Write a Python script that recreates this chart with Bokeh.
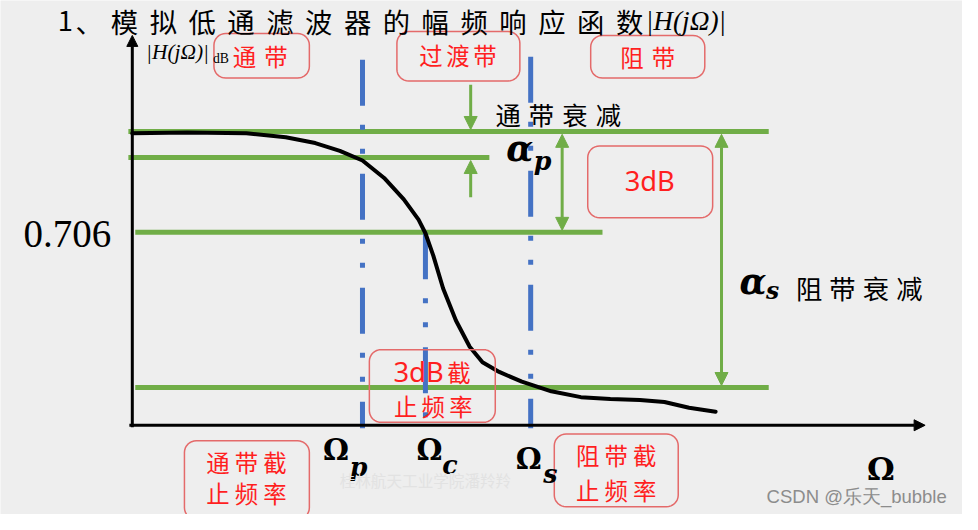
import math
from bokeh.plotting import figure
from bokeh.models import Range1d, Arrow, NormalHead
from bokeh.embed import file_html
from bokeh.resources import INLINE
from bokeh.core.properties import value

# ---------------- data (diagram units: reference pixels, y downward) ----------------
# magnitude response curve |H(jΩ)|
curve_x = [134, 190, 250, 290, 320, 345, 368, 390, 410, 425, 432, 440, 450, 463,
           477, 490, 507, 530, 560, 590, 620, 650, 675, 700, 727]
curve_y = [137, 136, 137, 141, 147, 155, 165, 183, 205, 226, 240, 263, 297, 330,
           357, 373, 383, 393, 403, 409, 411, 412, 414, 420, 424]

# green reference levels: passband max, passband edge (αp), 0.706 (3 dB), stopband (αs)
level_y = [135, 162, 239, 399]
level_x0 = [130, 130, 137, 137]
level_x1 = [781, 497, 612, 781]

# blue dash-dot frequency markers Ωp, Ωc, Ωs
freq_sub = ["p", "c", "s"]
freq_x = [368, 432, 539]
freq_top = [61, 240, 58]
axis_y0 = 438           # Ω axis level
axis_x0 = 134           # |H| axis position

# red annotation boxes: left, top, right, bottom
box_l = [217, 403, 600, 597, 375, 187, 563]
box_t = [34, 32, 36, 150, 360, 454, 447]
box_r = [314, 528, 716, 724, 503, 314, 689]
box_b = [80, 83, 80, 224, 435, 535, 522]

GREEN = "#70ad47"
BLUE = "#4472c4"
RED = "#ff1f1f"
BOXC = "#e46a6a"
BG = "#eeeeee"
CJK = "Noto Sans CJK SC"
SERIF = "DejaVu Serif"
S = 0.975  # font scale (figure is slightly smaller than the reference canvas)

p = figure(width=962, height=514, x_range=Range1d(0, 978), y_range=Range1d(530, 0),
           output_backend="svg", toolbar_location=None, min_border=0,
           x_axis_type=None, y_axis_type=None)
p.grid.visible = False
p.outline_line_color = None
p.background_fill_color = BG
p.border_fill_color = BG

# green levels
p.segment(x0=level_x0, y0=level_y, x1=level_x1, y1=level_y, line_color=GREEN, line_width=5)

# blue dash-dot lines
for fx, ft in zip(freq_x, freq_top):
    p.line(x=[fx, fx], y=[ft, axis_y0 + 3], line_color=BLUE, line_width=5,
           line_dash="46 19 5 19 5 20", line_cap="butt")

# axes
p.add_layout(Arrow(end=NormalHead(size=11, fill_color="black", line_color="black"),
                   x_start=axis_x0, y_start=axis_y0 + 2, x_end=axis_x0, y_end=36,
                   line_color="black", line_width=3))
p.add_layout(Arrow(end=NormalHead(size=11, fill_color="black", line_color="black"),
                   x_start=axis_x0 - 3, y_start=axis_y0, x_end=940, y_end=axis_y0,
                   line_color="black", line_width=3))

# response curve
p.line(x=curve_x, y=curve_y, line_color="black", line_width=4, line_cap="round", line_join="round")

# green attenuation arrows
def garrow(x, y0, y1, both=False):
    head = lambda: NormalHead(size=13, fill_color=GREEN, line_color=GREEN)
    p.add_layout(Arrow(end=head(), start=head() if both else None,
                       x_start=x, y_start=y0, x_end=x, y_end=y1,
                       line_color=GREEN, line_width=3))

garrow(478, 87, level_y[0] - 2)
garrow(478, 203, level_y[1] + 3)
garrow(571, level_y[0] + 3, level_y[2] - 2, both=True)
garrow(733, level_y[0] + 3, level_y[3] - 2, both=True)

# rounded boxes
def rounded(x0, y0, x1, y1, r=12, n=8):
    xs, ys = [], []
    corners = [(x1 - r, y0 + r, -90), (x1 - r, y1 - r, 0), (x0 + r, y1 - r, 90), (x0 + r, y0 + r, 180)]
    for cx, cy, a0 in corners:
        for k in range(n + 1):
            a = math.radians(a0 + 90 * k / n)
            xs.append(cx + r * math.cos(a))
            ys.append(cy + r * math.sin(a))
    return xs, ys

bxs, bys = [], []
for l, t, r, b in zip(box_l, box_t, box_r, box_b):
    xs, ys = rounded(l, t, r, b)
    bxs.append(xs)
    bys.append(ys)
p.patches(xs=bxs, ys=bys, fill_color=None, line_color=BOXC, line_width=1.5)

# text helpers
def txt(x, y, s, size, color="black", font=CJK, style="normal", align="center", baseline="middle"):
    p.text(x=[x], y=[y], text=[s], text_font=value(font), text_font_size=value(f"{size * S:.1f}px"),
           text_color=color, text_font_style=style, text_align=align, text_baseline=baseline)

def spaced(chars, cx, cy, step, size, color="black", font=CJK):
    n = len(chars)
    xs = [cx + (i - (n - 1) / 2) * step for i in range(n)]
    p.text(x=xs, y=[cy] * n, text=list(chars), text_font=value(font),
           text_font_size=value(f"{size * S:.1f}px"), text_color=color,
           text_align="center", text_baseline="middle")

# title
txt(66, 21, "1", 28)
txt(90, 21, "、", 28)
spaced("模拟低通滤波器的幅频响应函数", 382.75, 21, 39.5, 28)
txt(656, 21, "|H(jΩ)|", 28, font="Liberation Serif", style="italic", align="left")

# y-axis label
txt(148, 53, "|H(jΩ)|", 22, font="Liberation Serif", style="italic", align="left")
txt(216, 60, "dB", 14, font="Liberation Serif", align="left")

# box labels
spaced("通带", 264, 57, 32, 24, RED)
spaced("过渡带", 465, 56, 27.5, 24, RED)
spaced("阻带", 658, 58, 32, 24, RED)
txt(660, 186, "3dB", 28, RED, font="Noto Sans")
txt(425, 383, "3dB", 28, RED, font="Noto Sans")
txt(466, 383, "截", 24, RED)
spaced("止频率", 440, 418, 28, 24, RED)
spaced("通带截", 250, 476, 29, 24, RED)
spaced("止频率", 250, 508, 29, 24, RED)
spaced("阻带截", 626, 469, 29, 24, RED)
spaced("止频率", 626, 505, 29, 24, RED)

# black annotations
spaced("通带衰减", 567, 117, 34, 26)
spaced("阻带衰减", 873, 296, 34, 27)
txt(528, 153, "α", 36, font=SERIF, style="bold italic")
txt(551, 165, "p", 26, font=SERIF, style="bold italic")
txt(765, 290, "α", 36, font=SERIF, style="bold italic")
txt(785, 300, "s", 24, font=SERIF, style="bold italic")
txt(68, 241, "0.706", 40, font="Liberation Serif")

# frequency labels
om_x = [341, 436, 537]
om_y = [464, 464, 473]
sub_x = [364, 457, 559]
sub_y = [481, 479, 488]
for ox, oy, sx, sy, s in zip(om_x, om_y, sub_x, sub_y, freq_sub):
    txt(ox, oy, "Ω", 30, font=SERIF, style="bold")
    txt(sx, sy, s, 26, font=SERIF, style="bold italic")
txt(895, 483, "Ω", 32, font=SERIF, style="bold")

# watermark / credit
txt(432, 494, "桂林航天工业学院潘羚羚", 16, color="#e2e2e2")
txt(962, 511, "CSDN @乐天_bubble", 19, color="#8c8c8c", font="Liberation Sans", align="right")

open("out.html", "w").write(file_html(p, INLINE))
